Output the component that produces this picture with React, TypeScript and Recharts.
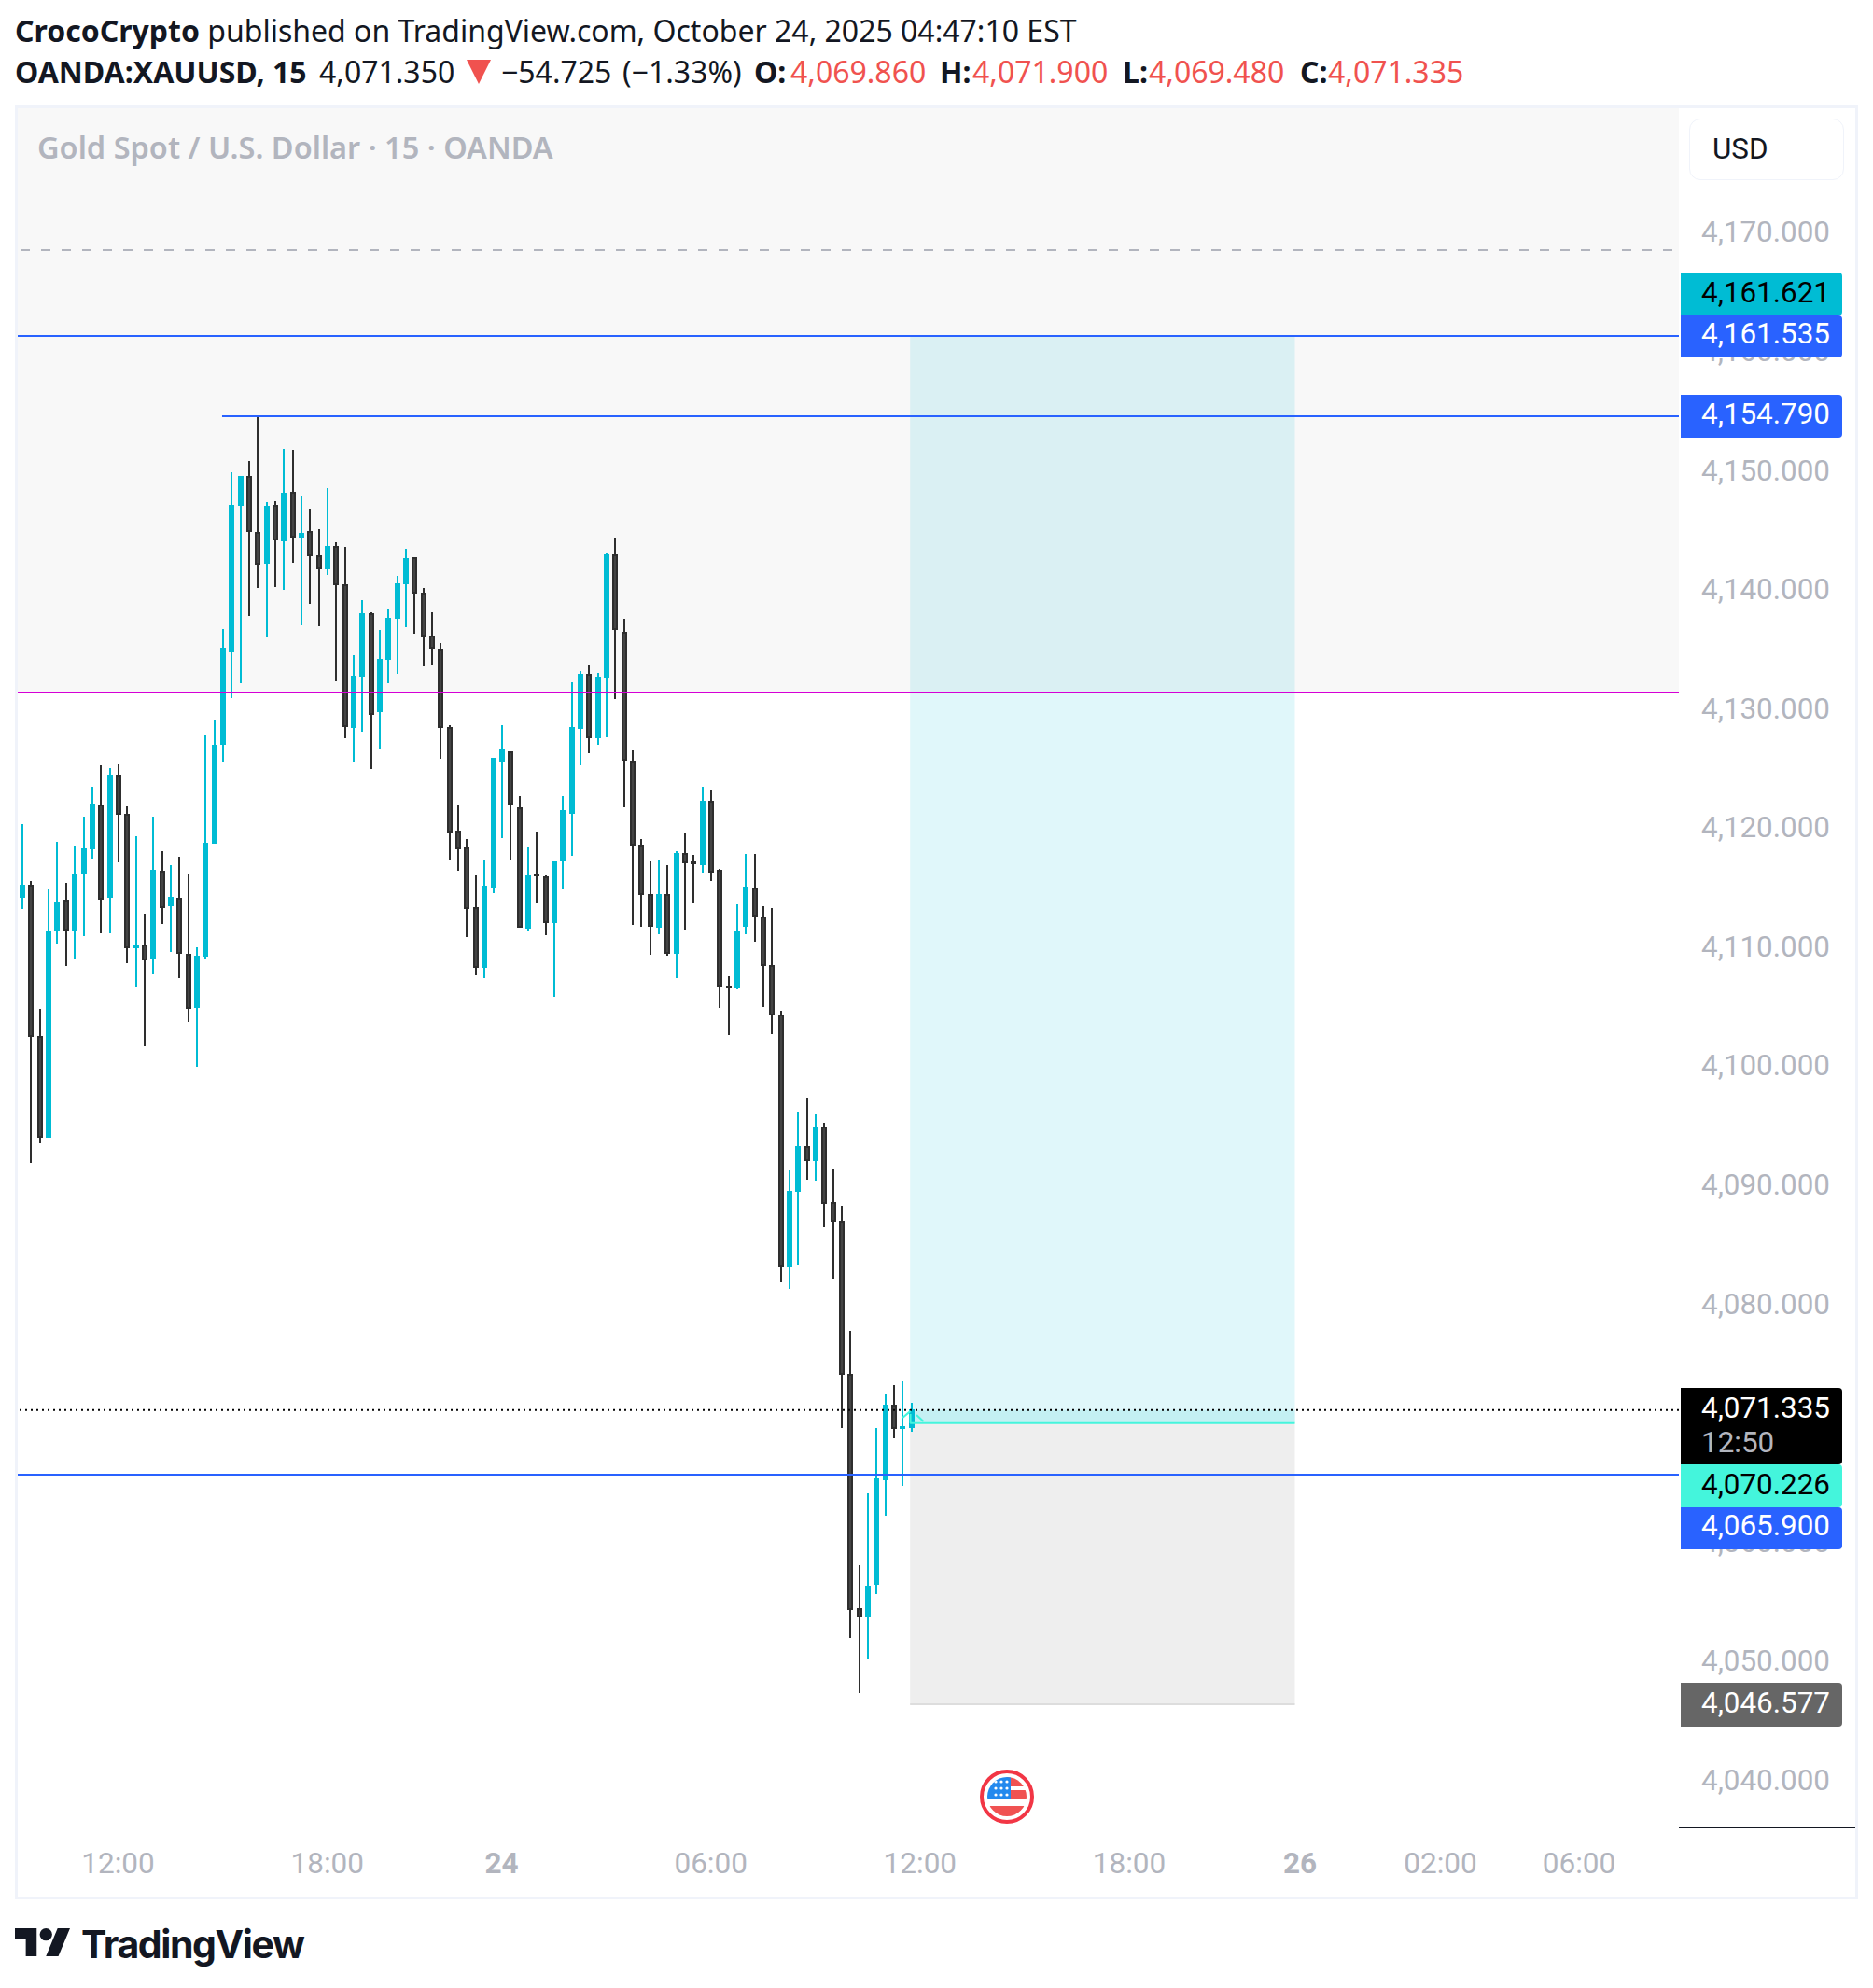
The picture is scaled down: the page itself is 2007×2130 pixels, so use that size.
import { Bar, ComposedChart, ReferenceArea, ReferenceLine, XAxis, YAxis } from 'recharts';

const opens = [
  4114.37, 4115.44, 4102.74, 4094.22, 4111.52, 4114.19, 4111.6, 4116.38, 4118.42, 4122.18,
  4114.34, 4124.69, 4121.4, 4110.11, 4110.42, 4109.25, 4116.62, 4113.64, 4114.34, 4109.64,
  4105.09, 4109.4, 4118.89, 4127.19, 4134.95, 4147.26, 4149.77, 4145.07, 4142.4, 4147.34,
  4144.28, 4148.44, 4144.59, 4145.14, 4143.11, 4141.93, 4143.89, 4140.68, 4128.6, 4132.91,
  4138.25, 4129.94, 4134.33, 4137.78, 4140.68, 4142.95, 4139.97, 4136.36, 4135.27, 4128.68,
  4119.99, 4118.59, 4113.57, 4108.47, 4115.22, 4125.8, 4126.66, 4121.94, 4111.76, 4116.38,
  4116.13, 4112.22, 4117.48, 4121.4, 4128.52, 4133.16, 4127.74, 4132.84, 4143.18, 4136.67,
  4125.88, 4118.81, 4114.65, 4111.84, 4114.65, 4109.63, 4118.1, 4117.4, 4117.08, 4122.5,
  4116.7, 4106.97, 4106.74, 4111.92, 4115.2, 4112.76, 4108.68, 4104.53, 4083.37, 4089.64,
  4093.5, 4092.24, 4095.13, 4088.8, 4087.23, 4074.37, 4054.69, 4053.91, 4056.65, 4065.43,
  4071.78, 4069.82, 4069.82,
];
const highs = [
  4120.54, 4115.75, 4105.01, 4115.05, 4119.05, 4115.6, 4118.73, 4121.16, 4123.67, 4125.47,
  4125.24, 4125.55, 4122.03, 4119.52, 4113.01, 4121.16, 4118.26, 4117.09, 4117.79, 4116.38,
  4110.19, 4128.06, 4129.31, 4136.91, 4150.08, 4149.77, 4151.02, 4154.79, 4147.57, 4147.65,
  4152.04, 4151.96, 4148.12, 4147.03, 4145.3, 4148.75, 4144.2, 4143.81, 4134.72, 4139.34,
  4138.32, 4136.83, 4138.56, 4141.38, 4143.65, 4142.95, 4140.36, 4138.32, 4135.74, 4128.85,
  4122.18, 4119.29, 4116.21, 4117.56, 4126.09, 4128.85, 4126.66, 4122.88, 4118.64, 4119.91,
  4116.21, 4117.48, 4122.88, 4132.44, 4133.38, 4133.95, 4133.25, 4143.34, 4144.61, 4137.78,
  4126.71, 4119.29, 4117.4, 4117.56, 4117.08, 4118.27, 4119.83, 4117.94, 4123.66, 4123.45,
  4116.75, 4107.75, 4113.8, 4118.03, 4118.03, 4113.63, 4113.49, 4104.87, 4091.46, 4096.39,
  4097.56, 4096.16, 4095.46, 4091.54, 4088.46, 4077.97, 4058.3, 4064.33, 4069.82, 4072.64,
  4073.43, 4073.74, 4071.94,
];
const lows = [
  4113.43, 4092.11, 4093.75, 4094.22, 4110.53, 4108.62, 4109.17, 4111.13, 4117.64, 4111.36,
  4111.36, 4117.32, 4108.86, 4106.82, 4101.88, 4107.91, 4112.15, 4109.8, 4107.6, 4103.92,
  4100.15, 4109.17, 4118.89, 4125.78, 4131.11, 4132.37, 4138.01, 4140.36, 4136.21, 4140.44,
  4140.21, 4142.48, 4137.23, 4139.03, 4137.15, 4141.46, 4132.52, 4127.74, 4125.78, 4128.29,
  4125.15, 4126.8, 4132.37, 4133.15, 4137.07, 4136.52, 4133.78, 4133.86, 4126.02, 4117.56,
  4116.62, 4111.06, 4107.85, 4107.6, 4114.73, 4119.37, 4117.56, 4111.84, 4111.52, 4113.95,
  4111.22, 4106.04, 4115.05, 4117.86, 4125.47, 4126.5, 4127.2, 4127.82, 4131.03, 4121.94,
  4112.08, 4111.92, 4109.57, 4111.28, 4109.49, 4107.6, 4111.68, 4113.87, 4116.46, 4115.76,
  4105.09, 4102.83, 4106.66, 4111.28, 4110.66, 4105.18, 4102.91, 4082.05, 4081.49, 4083.54,
  4090.68, 4090.59, 4086.67, 4082.36, 4069.82, 4052.18, 4047.56, 4050.46, 4055.87, 4062.45,
  4068.96, 4064.96, 4069.51,
];
const closes = [
  4115.44, 4102.69, 4094.22, 4111.6, 4114.03, 4111.6, 4116.38, 4118.5, 4122.26, 4114.19,
  4124.69, 4121.32, 4110.11, 4110.42, 4109.09, 4116.69, 4113.48, 4114.42, 4109.64, 4105.01,
  4109.48, 4118.97, 4127.2, 4135.34, 4147.34, 4149.77, 4145.07, 4142.32, 4147.26, 4144.36,
  4148.36, 4144.59, 4144.99, 4143.03, 4141.93, 4143.89, 4140.6, 4128.68, 4132.99, 4138.25,
  4129.7, 4134.4, 4137.85, 4140.75, 4142.87, 4139.89, 4136.29, 4135.27, 4128.6, 4119.86,
  4118.43, 4113.41, 4108.47, 4115.35, 4126.09, 4126.79, 4122.18, 4111.84, 4116.3, 4116.11,
  4112.22, 4117.48, 4121.72, 4128.68, 4133.16, 4127.77, 4132.92, 4143.18, 4136.84, 4125.88,
  4118.72, 4114.57, 4111.92, 4114.65, 4109.63, 4118.1, 4117.24, 4117.24, 4122.5, 4116.46,
  4106.93, 4106.77, 4111.59, 4115.28, 4112.76, 4108.65, 4104.48, 4083.37, 4089.72, 4093.5,
  4092.24, 4095.13, 4088.63, 4087.15, 4074.29, 4054.54, 4053.91, 4056.57, 4065.59, 4071.78,
  4069.74, 4069.98, 4071.39,
];

const priceTicks = [4170, 4160, 4150, 4140, 4130, 4120, 4110, 4100, 4090, 4080, 4070, 4060, 4050, 4040];
const timeTicks = [11, 35, 55, 79, 103, 127, 146.6, 162.7, 178.6];
const timeLabels = ['12:00', '18:00', '24', '06:00', '12:00', '18:00', '26', '02:00', '06:00'];
const boldTimes = ['24', '26'];

const chartData = opens.map((open, i) => ({
  i,
  open,
  high: highs[i],
  low: lows[i],
  close: closes[i],
}));

const CYAN = '#00bcd4';
const WICK = '#2e2e2e';
const BODY = '#444444';
const BLUE = '#2962ff';
const MINT = '#44f5dc';
const RED = '#f0524f';
const AXIS_TEXT = '#b2b5be';
const FONT_UI = '"Noto Sans", "Open Sans", sans-serif';
const FONT_AXIS = 'Roboto, sans-serif';

function Candle(props: any) {
  const { x, y, width, height, payload } = props;
  const k = height / (payload.high - payload.low || 1);
  const up = payload.close >= payload.open;
  const cx = Math.round(x + width / 2);
  const top = Math.round(y + (payload.high - Math.max(payload.open, payload.close)) * k);
  const bottom = Math.round(y + (payload.high - Math.min(payload.open, payload.close)) * k);
  const h = Math.max(bottom - top, 3);
  const wick = up ? CYAN : WICK;
  return (
    <g shapeRendering="crispEdges">
      <rect x={cx - 1} y={y} width={2} height={height} fill={wick} />
      {up ? (
        <rect x={cx - 3} y={top} width={6} height={h} fill={CYAN} />
      ) : (
        <rect x={cx - 2} y={top + 1} width={4} height={h - 2} fill={BODY} stroke={WICK} strokeWidth={2} />
      )}
    </g>
  );
}

function PriceTick({ x, y, payload }: any) {
  return (
    <text x={x + 16} y={y - 3} fill={AXIS_TEXT} fontSize={31.4} fontFamily={FONT_AXIS} dominantBaseline="central">
      {payload.value.toLocaleString('en-US', { minimumFractionDigits: 3 })}
    </text>
  );
}

function TimeTick({ x, y, payload }: any) {
  const label = timeLabels[timeTicks.indexOf(payload.value)];
  return (
    <text
      x={x}
      y={y}
      fill={AXIS_TEXT}
      fontSize={31.5}
      fontFamily={FONT_AXIS}
      fontWeight={boldTimes.includes(label) ? 700 : 400}
      textAnchor="middle"
      dominantBaseline="central"
    >
      {label}
    </text>
  );
}

const flags = [
  { label: '4,161.621', top: 292, height: 46, lift: 2, bg: CYAN, color: '#000' },
  { label: '4,154.790', top: 423, height: 46, lift: 4, bg: BLUE, color: '#fff' },
  { label: '4,161.535', top: 338, height: 45, lift: 5, bg: BLUE, color: '#fff' },
  { label: '4,070.226', top: 1569, height: 46, lift: 2, bg: MINT, color: '#000' },
  { label: '4,065.900', top: 1615, height: 45, lift: 6, bg: BLUE, color: '#fff' },
  { label: '4,046.577', top: 1803, height: 47, lift: 4, bg: '#666666', color: '#fff' },
];

function Flag({ label, top, height, lift, bg, color }: any) {
  return (
    <div
      style={{
        position: 'absolute', left: 1801, top, width: 173, height, background: bg, color,
        borderRadius: '0 4px 4px 0', font: `31.4px ${FONT_AXIS}`, lineHeight: `${height - lift}px`,
        paddingLeft: 22, boxSizing: 'border-box',
      }}
    >
      {label}
    </div>
  );
}

function UsFlag() {
  return (
    <svg style={{ position: 'absolute', left: 1050, top: 1896 }} width={58} height={58} viewBox="0 0 58 58">
      <defs>
        <clipPath id="usclip">
          <circle cx={29} cy={29} r={21} />
        </clipPath>
      </defs>
      <circle cx={29} cy={29} r={27} fill="#fff" stroke="#f23645" strokeWidth={4} />
      <g clipPath="url(#usclip)">
        <rect x={8} y={8} width={42} height={42} fill="#fff" />
        <rect x={29} y={8} width={21} height={10} fill="#f05252" />
        <rect x={29} y={22} width={21} height={10} fill="#f05252" />
        <rect x={8} y={39} width={42} height={11} fill="#f05252" />
        <rect x={8} y={8} width={25} height={24} fill="#2389ee" />
        {[13, 20, 27].map((cy) =>
          [17, 23, 29].map((cx) => <circle key={`${cx}-${cy}`} cx={cx} cy={cy} r={1.6} fill="#fff" />),
        )}
      </g>
    </svg>
  );
}

const headStyle = { position: 'absolute', whiteSpace: 'pre', color: '#131722', font: `32px ${FONT_UI}` } as const;

// second header line, each piece placed where the reference has it
const quoteParts = [
  { text: 'OANDA:XAUUSD, 15', left: 16, weight: 700 },
  { text: '4,071.350', left: 342 },
  { text: '−54.725', left: 537 },
  { text: '(−1.33%)', left: 667 },
  { text: 'O:', left: 808, weight: 700 },
  { text: '4,069.860', left: 847, color: RED },
  { text: 'H:', left: 1007, weight: 700 },
  { text: '4,071.900', left: 1042, color: RED },
  { text: 'L:', left: 1203, weight: 700 },
  { text: '4,069.480', left: 1231, color: RED },
  { text: 'C:', left: 1393, weight: 700 },
  { text: '4,071.335', left: 1423, color: RED },
];

export default function App() {
  return (
    <div style={{ position: 'absolute', left: 0, top: 0, width: 2007, height: 2130, background: '#fff', overflow: 'hidden' }}>
      <div style={{ ...headStyle, left: 16, top: 11 }}>
        <span style={{ fontWeight: 700 }}>CrocoCrypto</span> published on TradingView.com, October 24, 2025 04:47:10 EST
      </div>
      {quoteParts.map((p) => (
        <div
          key={p.left}
          style={{ ...headStyle, left: p.left, top: 55, fontWeight: p.weight ?? 400, color: p.color ?? '#131722' }}
        >
          {p.text}
        </div>
      ))}
      <svg style={{ position: 'absolute', left: 500, top: 64 }} width={26} height={26}>
        <polygon points="0,0 26,0 13,26" fill={RED} />
      </svg>

      <div
        style={{
          position: 'absolute', left: 16, top: 113, width: 1969, height: 1916,
          border: '3px solid #f0f3fa', boxSizing: 'content-box',
        }}
      />

      <div style={{ position: 'absolute', left: 0, top: 0 }}>
        <ComposedChart
          width={2007}
          height={2130}
          data={chartData}
          margin={{ top: 116, right: 19, bottom: 98, left: 19 }}
        >
          <XAxis
            dataKey="i"
            type="number"
            domain={[-0.514, 190.06]}
            ticks={timeTicks}
            allowDataOverflow
            axisLine={false}
            tickLine={false}
            height={74}
            interval={0}
            tickMargin={32}
            tick={<TimeTick />}
          />
          <YAxis
            orientation="right"
            domain={[4036.27, 4180.66]}
            ticks={priceTicks}
            allowDataOverflow
            axisLine={false}
            tickLine={false}
            width={189}
            interval={0}
            tick={<PriceTick />}
          />
          <ReferenceArea x1={101.86} x2={146} y1={4070.226} y2={4161.535} fill="#e0f7fa" fillOpacity={1} />
          <ReferenceArea x1={101.86} x2={146} y1={4046.577} y2={4070.226} fill="#eeeeee" fillOpacity={1} stroke="none" />
          <ReferenceArea x1={101.86} x2={146} y1={4070.226} y2={4071.335} fill="#c4f0f3" fillOpacity={1} />
          <ReferenceLine
            segment={[{ x: 101.86, y: 4046.62 }, { x: 146, y: 4046.62 }]}
            stroke="#dddddd"
            strokeWidth={2}
          />
          <Bar
            dataKey={(d: any) => [d.low, d.high]}
            barSize={6}
            isAnimationActive={false}
            shape={<Candle />}
          />
          <ReferenceArea y1={4131.59} y2={4180.66} fill="#787b86" fillOpacity={0.055} stroke="none" />
          <ReferenceLine y={4168.74} stroke={AXIS_TEXT} strokeWidth={2} strokeDasharray="10 12" strokeDashoffset={15} />
          <ReferenceLine y={4161.535} stroke={BLUE} strokeWidth={2} />
          <ReferenceLine
            segment={[{ x: 22.93, y: 4154.79 }, { x: 190.06, y: 4154.79 }]}
            stroke={BLUE}
            strokeWidth={2}
          />
          <ReferenceLine y={4131.59} stroke="#d500d5" strokeWidth={2} />
          <ReferenceLine y={4071.335} stroke="#000" strokeWidth={2} strokeDasharray="2 4" />
          <ReferenceLine y={4065.9} stroke={BLUE} strokeWidth={2} />
          <ReferenceLine
            segment={[{ x: 101.86, y: 4070.226 }, { x: 146, y: 4070.226 }]}
            stroke={MINT}
            strokeWidth={2}
          />
          <ReferenceLine
            segment={[{ x: 101, y: 4070.68 }, { x: 101.9, y: 4071.24 }]}
            stroke={MINT}
            strokeWidth={2}
          />
          <ReferenceLine
            segment={[{ x: 101.9, y: 4071.0 }, { x: 101.9, y: 4070.226 }]}
            stroke={MINT}
            strokeWidth={2}
          />
          <ReferenceLine
            segment={[{ x: 102.6, y: 4070.92 }, { x: 103.4, y: 4070.37 }]}
            stroke={MINT}
            strokeWidth={2}
          />
        </ComposedChart>
      </div>

      <div style={{ ...headStyle, left: 40, top: 135, fontWeight: 600, fontSize: 32.5, color: AXIS_TEXT }}>
        Gold Spot / U.S. Dollar · 15 · OANDA
      </div>

      <div
        style={{
          position: 'absolute', left: 1810, top: 127, width: 166, height: 66, boxSizing: 'border-box',
          border: '1px solid #f0f3fa', borderRadius: 12, background: '#fff', color: '#131722',
          font: `31.4px ${FONT_AXIS}`, lineHeight: '64px', paddingLeft: 24,
        }}
      >
        USD
      </div>

      {flags.map((f) => (
        <Flag key={f.label} {...f} />
      ))}
      <div
        style={{
          position: 'absolute', left: 1801, top: 1487, width: 173, height: 82, background: '#000',
          borderRadius: '0 4px 4px 0', font: `31.4px ${FONT_AXIS}`, lineHeight: '37px', paddingLeft: 22,
          paddingTop: 3, boxSizing: 'border-box', color: '#fff',
        }}
      >
        4,071.335
        <div style={{ color: '#b2b5be' }}>12:50</div>
      </div>

      <div style={{ position: 'absolute', left: 1799, top: 1957, width: 189, height: 2, background: '#131722' }} />

      <UsFlag />

      <svg style={{ position: 'absolute', left: 16, top: 2066 }} width={59} height={30} viewBox="0 4 35.5 18">
        <path d="M14 22H7V11H0V4h14v18zM28 22h-8l7.5-18h8L28 22z" fill="#131722" />
        <circle cx={20} cy={8} r={4} fill="#131722" />
      </svg>
      <div style={{ position: 'absolute', left: 87, top: 2058, whiteSpace: 'pre', color: '#131722', font: '700 41px Inter, sans-serif', letterSpacing: -1.4 }}>
        TradingView
      </div>
    </div>
  );
}
